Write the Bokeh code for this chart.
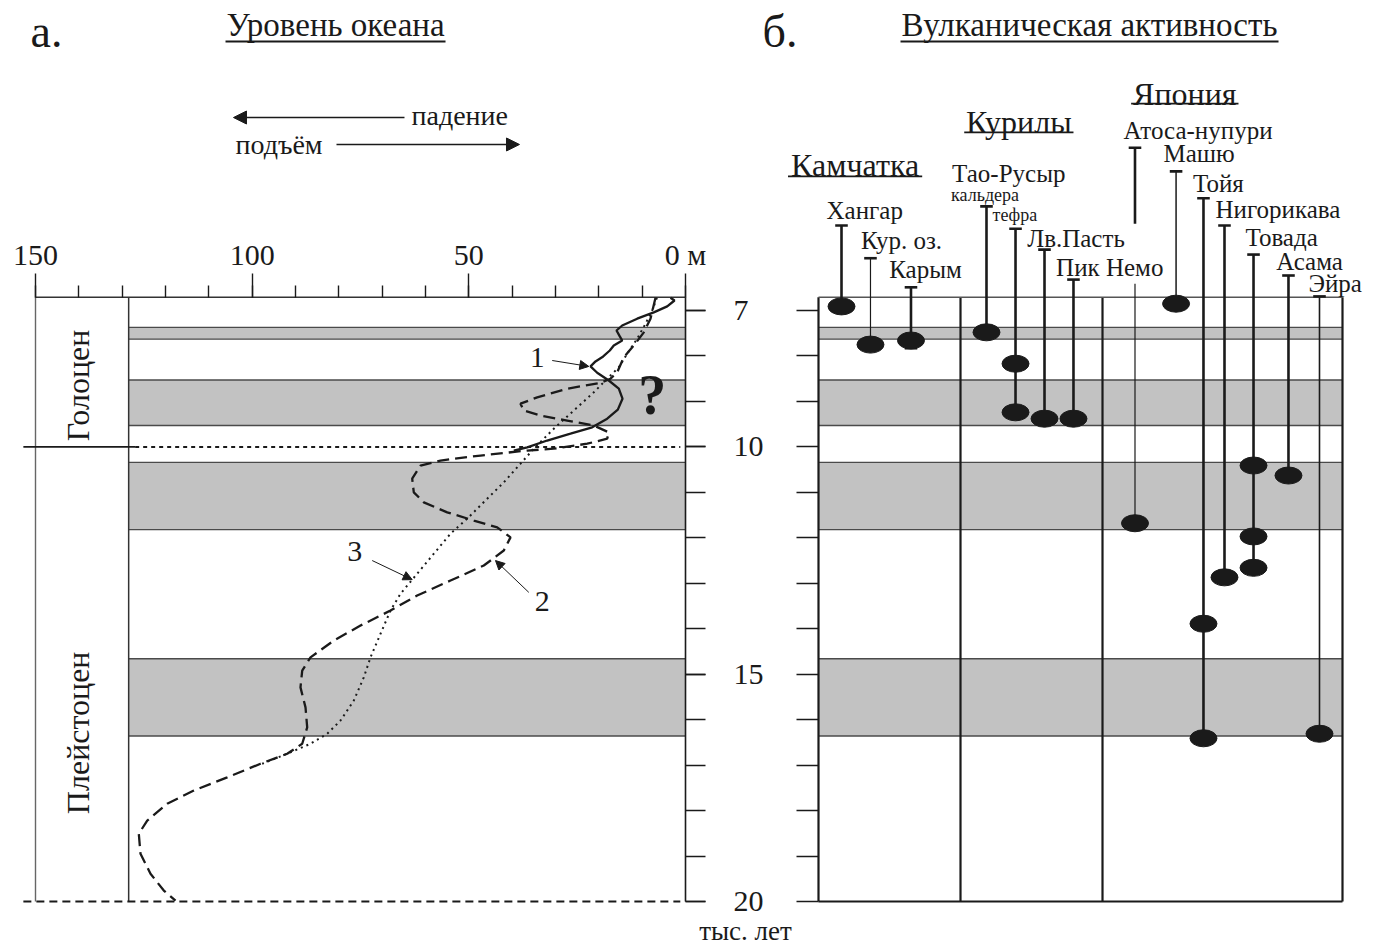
import math
from bokeh.plotting import figure
from bokeh.models import Range1d, LinearAxis, FixedTicker, Arrow, NormalHead
from bokeh.core.properties import value
from bokeh.embed import file_html
from bokeh.resources import INLINE

FONT = "Liberation Serif"
INK = "#1a1a1a"
BAND = "#c2c2c2"

# ------------------------------------------------------------------ data
# time scale (thousand years) and sea-level scale (m)
time_major = [7, 10, 15, 20]
time_minor = list(range(7, 21))
level_major = [0, 50, 100, 150]
level_minor = list(range(0, 151, 10))
level_labels = {0: "0 м"}

chart_top_age = 6.71
chart_bottom_age = 20.0
holocene_boundary = 10.0
column_level = 128.5          # edge of the stratigraphic column (m)

# grey intervals (ka)
band_top = [7.37, 8.53, 10.34, 14.66]
band_bottom = [7.63, 9.53, 11.82, 16.36]

# curve 1 (solid)
c1_level = [3.46, 2.54, 4.22, 7.32, 11.15, 14.61, 15.92, 15.16, 14.61, 16.55, 17.47,
            18.99, 20.77, 21.92, 20.38, 17.70, 15.39, 14.54, 15.62, 18.07, 21.53,
            26.54, 31.92, 36.53, 39.62]
c1_age = [6.72, 6.78, 6.91, 7.04, 7.18, 7.33, 7.44, 7.57, 7.66, 7.77, 7.88,
          8.01, 8.12, 8.23, 8.37, 8.54, 8.72, 8.94, 9.18, 9.38, 9.57,
          9.71, 9.86, 10.01, 10.08]

# curve 2 (dashed)
c2_level = [6.92, 8.08, 9.62, 11.93, 14.24, 15.76, 17.31, 19.62, 27.30, 34.22, 38.08,
            37.32, 33.46, 27.30, 21.16, 17.70, 18.07, 22.68, 30.39, 36.53, 47.31,
            56.54, 61.15, 63.07, 62.70, 60.39, 54.99, 48.85, 43.45, 40.38, 41.93,
            46.55, 54.23, 61.92, 68.08, 75.00, 81.16, 86.54, 88.45, 88.85, 87.69,
            87.30, 88.45, 91.92, 98.08, 105.76, 113.47, 119.61, 124.22, 126.16,
            125.77, 123.46, 120.39, 117.69]
c2_age = [6.72, 7.18, 7.48, 7.77, 8.03, 8.36, 8.50, 8.59, 8.72, 8.91, 9.05,
          9.20, 9.31, 9.42, 9.53, 9.68, 9.82, 9.93, 10.04, 10.08, 10.19,
          10.30, 10.41, 10.70, 11.00, 11.22, 11.44, 11.62, 11.77, 11.99, 12.28,
          12.61, 12.94, 13.27, 13.60, 13.93, 14.26, 14.63, 14.92, 15.29, 15.73,
          16.17, 16.53, 16.75, 16.97, 17.27, 17.56, 17.85, 18.22, 18.51,
          18.95, 19.39, 19.76, 19.98]

# curve 3 (dotted)
c3_level = [6.60, 7.68, 9.23, 11.15, 13.45, 15.39, 18.07, 21.16, 25.78, 30.39, 35.01,
            38.08, 41.93, 45.76, 50.38, 54.23, 58.08, 61.92, 65.77, 68.08, 70.38,
            72.69, 74.24, 76.55, 79.62, 82.68, 86.54, 91.92, 97.69]
c3_age = [6.72, 7.00, 7.29, 7.62, 7.95, 8.25, 8.50, 8.80, 9.20, 9.60, 10.04,
          10.37, 10.78, 11.14, 11.58, 11.91, 12.35, 12.79, 13.23, 13.60, 14.11,
          14.63, 15.07, 15.58, 16.02, 16.31, 16.53, 16.75, 16.97]

# volcanoes
volcano_names = ["Хангар", "Кур. оз.", "Карым", "кальдера", "тефра", "Лв.Пасть",
                 "Пик Немо", "Атоса-нупури", "Машю", "Тойя", "Нигорикава",
                 "Товада", "Асама", "Эйра"]
eruption_ages = [[6.91], [7.75], [7.66], [7.48], [8.17, 9.24], [9.38], [9.38],
                 [11.68], [6.85], [13.89, 16.41], [12.87], [10.41, 11.97, 12.66],
                 [10.63], [16.31]]
karym_lower_age = 7.83
regions = ["Камчатка", "Курилы", "Япония"]

# ------------------------------------------------------------------ layout
# right panel: horizontal slots (0..100 across the panel)
slot_x = [4.39, 9.92, 17.65, 32.06, 37.60, 43.13, 48.66, 60.40, 68.24, 73.47,
          77.48, 83.02, 89.69, 95.61]
cap_age = [5.13, 5.85, 6.49, 4.71, 5.20, 5.66, 6.32, 3.42, 3.94, 4.53, 5.13,
           5.77, 6.23, 6.69]
stem_width = [2.6, 1.2, 2.6, 2.6, 2.6, 2.6, 2.6, 2.6, 1.5, 2.6, 2.6, 2.6, 2.6, 1.6]
label_x = [1.53, 8.13, 13.49, 25.31, 33.21, 39.83, 45.34, 58.21, 65.84, 71.47,
           75.76, 81.49, 87.35, 93.51]
label_age = [4.80, 5.46, 6.10, 4.47, 4.91, 5.42, 6.05, 3.04, 3.55, 4.21, 4.78,
             5.39, 5.92, 6.41]
label_size = ["25px", "25px", "25px", "18px", "18px", "25px", "25px", "25px",
              "25px", "25px", "25px", "25px", "25px", "25px"]
dividers = [27.10, 54.20]
region_x = [6.99, 38.24, 69.90]
region_age = [3.81, 2.85, 2.23]
region_ul_age = [4.05, 3.08, 2.45]
region_ul_x0 = [-5.82, 27.81, 59.66]
region_ul_x1 = [19.79, 48.66, 80.15]
atosa_gap = (5.09, 6.41)

# ------------------------------------------------------------------ figure
p = figure(width=1375, height=950,
           x_range=Range1d(158.077, -159.23), y_range=Range1d(21.078, 0.1808),
           x_axis_type=None, y_axis_type=None, toolbar_location=None,
           output_backend="svg", min_border=0, outline_line_color=None,
           background_fill_color="white", border_fill_color="white")
p.extra_x_ranges = {"r": Range1d(-156.107, 106.298)}


def txt(x, y, s, size, align="left", baseline="middle", angle=0.0, rng="default",
        style="normal"):
    p.text(x=[x], y=[y], text=[s], text_font=value(FONT), text_font_size=size,
           text_align=align, text_baseline=baseline, angle=angle,
           text_color=INK, text_font_style=style, x_range_name=rng)


# ----- left panel (sea level)
p.quad(left=column_level, right=0, top=band_top, bottom=band_bottom,
       fill_color=BAND, line_color=None)
edges = band_top + band_bottom
p.segment(x0=[column_level] * len(edges), x1=[0] * len(edges), y0=edges, y1=edges,
          line_color="#4a4a4a", line_width=1.4)
p.segment(x0=[150, column_level, 0], x1=[150, column_level, 0],
          y0=[chart_top_age] * 3, y1=[chart_bottom_age] * 3,
          line_color=["#666666", "#333333", INK], line_width=[1.4, 1.5, 1.6])
p.segment(x0=[150], x1=[0], y0=[chart_top_age], y1=[chart_top_age],
          line_color="#333333", line_width=1.5)
# Holocene / Pleistocene boundary
p.segment(x0=[152.8], x1=[127.0], y0=[holocene_boundary], y1=[holocene_boundary],
          line_color=INK, line_width=1.6)
p.segment(x0=[127.0], x1=[1.2], y0=[holocene_boundary], y1=[holocene_boundary],
          line_color=INK, line_width=2.0, line_dash="4 4")
p.segment(x0=[152.8], x1=[1.2], y0=[chart_bottom_age], y1=[chart_bottom_age],
          line_color=INK, line_width=2.0, line_dash="8 5")

p.line(c3_level, c3_age, line_color=INK, line_width=2.0, line_dash="2 4")
p.line(c2_level, c2_age, line_color=INK, line_width=2.3, line_dash="12 6")
p.line(c1_level, c1_age, line_color=INK, line_width=2.3)

txt(140.2, 8.65, "Голоцен", "32px", align="center", angle=math.pi / 2)
txt(140.2, 16.29, "Плейстоцен", "32px", align="center", angle=math.pi / 2)
txt(34.22, 8.03, "1", "29px", align="center")
txt(76.34, 12.30, "3", "30px", align="center")
txt(33.07, 13.40, "2", "30px", align="center")
txt(7.68, 8.85, "?", "56px", align="center", style="bold")

for (xs, ys, xe, ye) in [(30.76, 8.10, 22.31, 8.23), (72.30, 12.50, 63.07, 12.92),
                         (36.16, 13.20, 43.85, 12.50)]:
    p.add_layout(Arrow(end=NormalHead(size=9, fill_color=INK, line_color=INK),
                       x_start=xs, y_start=ys, x_end=xe, y_end=ye,
                       line_color=INK, line_width=1.0))

# direction arrows
p.add_layout(Arrow(end=NormalHead(size=13, fill_color=INK, line_color=INK),
                   x_start=64.85, y_start=2.755, x_end=104.31, y_end=2.755,
                   line_color=INK, line_width=1.6))
p.add_layout(Arrow(end=NormalHead(size=13, fill_color=INK, line_color=INK),
                   x_start=80.54, y_start=3.348, x_end=38.31, y_end=3.348,
                   line_color=INK, line_width=1.6))
txt(63.23, 2.72, "падение", "28px")
txt(103.85, 3.34, "подъём", "28px")

# titles
txt(151.15, 0.86, "а.", "46px")
txt(80.77, 0.73, "Уровень океана", "33px", align="center")
p.segment(x0=[106.15], x1=[55.38], y0=[1.083], y1=[1.083], line_color=INK, line_width=2)
txt(-10.69, 0.86, "б.", "46px", rng="r")
txt(51.72, 0.73, "Вулканическая активность", "33px", align="center", rng="r")
p.segment(x0=[15.65], x1=[87.79], y0=[1.083], y1=[1.083], line_color=INK,
          line_width=2, x_range_name="r")
txt(-13.85, 20.64, "тыс. лет", "27px", align="center")

# axes
top_axis = LinearAxis(fixed_location=chart_top_age,
                      ticker=FixedTicker(ticks=level_major, minor_ticks=level_minor),
                      bounds=(0, 150), axis_line_color=None,
                      major_tick_out=24, major_tick_in=0, minor_tick_out=12, minor_tick_in=0,
                      major_tick_line_color=INK, minor_tick_line_color=INK,
                      major_tick_line_width=1.4, minor_tick_line_width=1.4,
                      major_label_overrides=level_labels, major_label_standoff=2,
                      major_label_text_font=FONT, major_label_text_font_size="30px",
                      major_label_text_color=INK)
p.add_layout(top_axis, "above")

time_axis = LinearAxis(fixed_location=0,
                       ticker=FixedTicker(ticks=time_major, minor_ticks=time_minor),
                       bounds=(7, 20), axis_line_color=None,
                       major_tick_out=20, major_tick_in=0, minor_tick_out=20, minor_tick_in=0,
                       major_tick_line_color=INK, minor_tick_line_color=INK,
                       major_tick_line_width=1.5, minor_tick_line_width=1.5,
                       major_label_standoff=28,
                       major_label_text_font=FONT, major_label_text_font_size="30px",
                       major_label_text_color=INK)
p.add_layout(time_axis, "right")

right_ticks = LinearAxis(fixed_location=0, x_range_name="r",
                         ticker=FixedTicker(ticks=[], minor_ticks=time_minor),
                         bounds=(7, 20), axis_line_color=None,
                         major_tick_out=22, major_tick_in=0, minor_tick_out=22, minor_tick_in=0,
                         minor_tick_line_color=INK, minor_tick_line_width=1.5,
                         major_label_text_font_size="0px")
p.add_layout(right_ticks, "left")

# ----- right panel (volcanic activity)
p.quad(left=0, right=100, top=band_top, bottom=band_bottom, fill_color=BAND,
       line_color=None, x_range_name="r")
p.segment(x0=[0] * len(edges), x1=[100] * len(edges), y0=edges, y1=edges,
          line_color="#4a4a4a", line_width=1.4, x_range_name="r")
p.segment(x0=[0, 100] + dividers, x1=[0, 100] + dividers,
          y0=[chart_top_age] * 4, y1=[chart_bottom_age] * 4,
          line_color=INK, line_width=2.2, x_range_name="r")
p.segment(x0=[0, 0], x1=[100, 100], y0=[chart_top_age, chart_bottom_age],
          y1=[chart_top_age, chart_bottom_age], line_color=["#555555", INK],
          line_width=[1.5, 2.0], x_range_name="r")

sx0, sy0, sy1, sw = [], [], [], []
for i, ages in enumerate(eruption_ages):
    if volcano_names[i] == "Атоса-нупури":
        sx0 += [slot_x[i], slot_x[i]]
        sy0 += [cap_age[i], atosa_gap[1]]
        sy1 += [atosa_gap[0], max(ages)]
        sw += [stem_width[i], 1.2]
    else:
        sx0.append(slot_x[i])
        sy0.append(cap_age[i])
        sy1.append(max(ages))
        sw.append(stem_width[i])
p.segment(x0=sx0, x1=sx0, y0=sy0, y1=sy1, line_color=INK, line_width=sw,
          x_range_name="r")
cap_x = slot_x + [slot_x[2]]
cap_y = cap_age + [karym_lower_age]
p.segment(x0=[x - 1.2 for x in cap_x], x1=[x + 1.2 for x in cap_x], y0=cap_y, y1=cap_y,
          line_color=INK, line_width=2.6, x_range_name="r")

ex, ey = [], []
for i, ages in enumerate(eruption_ages):
    for a in ages:
        ex.append(slot_x[i])
        ey.append(a)
p.ellipse(x=ex, y=ey, width=27, height=17, width_units="screen",
          height_units="screen", fill_color=INK, line_color=INK, x_range_name="r")

for i, name in enumerate(volcano_names):
    txt(label_x[i], label_age[i], name, label_size[i], rng="r")
txt(25.50, 3.99, "Тао-Русыр", "25px", rng="r")

for i, reg in enumerate(regions):
    txt(region_x[i], region_age[i], reg, "32px", align="center", rng="r")
p.segment(x0=region_ul_x0, x1=region_ul_x1, y0=region_ul_age, y1=region_ul_age,
          line_color=INK, line_width=1.8, x_range_name="r")

open("out.html", "w").write(file_html(p, INLINE))
